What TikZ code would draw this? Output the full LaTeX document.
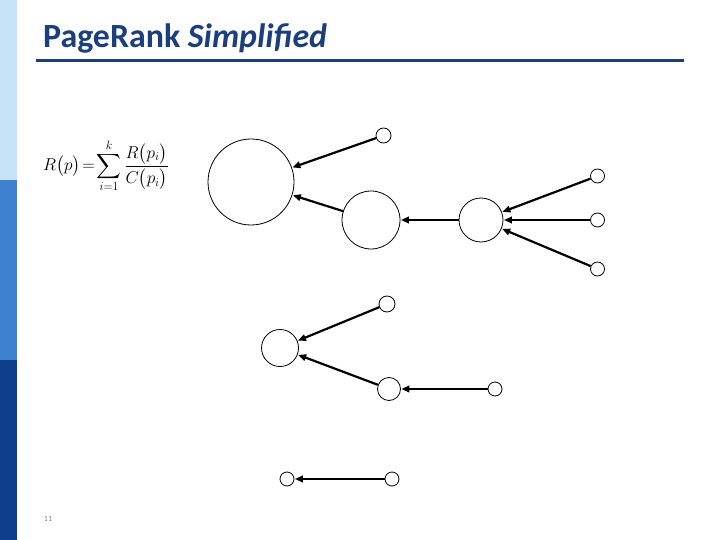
\documentclass[tikz,border=0pt]{standalone}
\usepackage{amsmath}
\usepackage{exscale}
\usepackage{fontspec}
\setmainfont{Carlito}
\usetikzlibrary{arrows.meta}
\definecolor{barlight}{HTML}{C6E3F8}
\definecolor{barmid}{HTML}{3D81D0}
\definecolor{bardark}{HTML}{0D3F8C}
\definecolor{titleblue}{HTML}{1B3F7E}
\begin{document}
\begin{tikzpicture}[x=1bp,y=-1bp,
  page/.style={circle,draw=black,line width=0.8bp,inner sep=0pt,minimum size=#1},
  arr/.style={line width=2.2bp,-{Triangle[length=8bp,width=6.5bp]},shorten >=0.5bp}]
\useasboundingbox (0,0) rectangle (720,540);
% side bar
\fill[barlight] (0,0) rectangle (17,180);
\fill[barmid] (0,180) rectangle (17,360);
\fill[bardark] (0,360) rectangle (17,540);
% title
\node[anchor=base west,inner sep=0pt,text=titleblue] (title) at (43,48)
  {\fontsize{34}{40}\selectfont\bfseries PageRank \itshape Simplified};
\draw[titleblue,line width=3bp] (36,61) -- (684,61);
% formula
\node[inner sep=0pt] (formula) at (106,166)
  {\fontsize{17}{20}\selectfont$\displaystyle R\bigl(p\bigr)\!=\!\sum_{i=1}^{k}\frac{R\bigl(p_i\bigr)}{C\bigl(p_i\bigr)}$};
% group 1
\node[page=86bp] (A) at (251,182) {};
\node[page=58bp] (B) at (371,220) {};
\node[page=15bp] (C) at (383.5,135.5) {};
\node[page=44bp] (D) at (481,220) {};
\node[page=14bp] (D1) at (597.5,176) {};
\node[page=14bp] (D2) at (597.5,220) {};
\node[page=14bp] (D3) at (597.5,269) {};
\draw[arr] (C) -- (A);
\draw[arr] (B) -- (A);
\draw[arr] (D) -- (B);
\draw[arr] (D1) -- (D);
\draw[arr] (D2) -- (D);
\draw[arr] (D3) -- (D);
% group 2
\node[page=37bp] (E) at (280,348) {};
\node[page=16bp] (F) at (387,304) {};
\node[page=23bp] (G) at (389,389) {};
\node[page=14bp] (H) at (495,389) {};
\draw[arr] (F) -- (E);
\draw[arr] (G) -- (E);
\draw[arr] (H) -- (G);
% group 3
\node[page=14bp] (L) at (287,479) {};
\node[page=14bp] (R) at (392,479) {};
\draw[arr] (R) -- (L);
% page number
\node[text=gray,inner sep=0pt] (num) at (48,519) {\fontsize{8}{10}\selectfont 11};
\end{tikzpicture}
\end{document}
